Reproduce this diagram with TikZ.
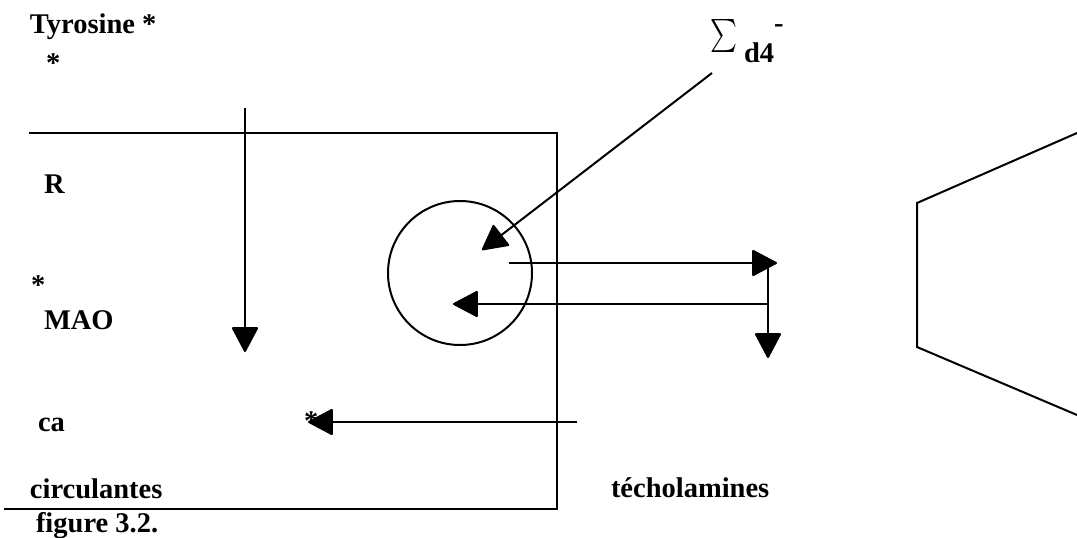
\documentclass[tikz,border=0pt]{standalone}
\usepackage{fontspec}
\setmainfont{Liberation Serif}
\usepackage{graphicx}
\usetikzlibrary{arrows.meta}

\tikzset{
  lbl/.style={font=\fontsize{28.5}{34}\selectfont\bfseries, inner sep=0pt, anchor=base west},
  flow/.style={line width=2pt, -{Triangle[length=26pt,width=27pt,round]}},
}

\begin{document}
\begin{tikzpicture}[x=1pt,y=-1pt,line width=2pt]
  \useasboundingbox (0,0) rectangle (1077,538);

  % Cell outline and vesicle
  \draw (29,133) -| (557,509) -- (4,509);
  \node[circle,draw,minimum size=144pt,inner sep=0pt] (vesicle) at (460,273) {};

  % Synapse side
  \draw (1077,133) -- (917,203) -- (917,347) -- (1077,415);

  % Labels
  \node[lbl] (tyr) at (29,33) {Tyrosine *};
  \node[lbl] (star1) at (45,72) {*};
  \node[lbl] (rlab) at (43,193) {R};
  \node[lbl] (star2) at (30,294) {*};
  \node[lbl] (mao) at (43,329) {MAO};
  \node[lbl] (ca) at (37,431) {ca};
  \node[lbl] (star3) at (303,430) {*};
  \node[lbl] (circ) at (29,498) {circulantes};
  \node[lbl] (fig) at (35,532) {figure 3.2.};
  \node[lbl] (tech) at (610,497) {técholamines};
  \node[inner sep=0pt] (sigma) at (723.5,35.5) {\resizebox*{27pt}{33pt}{$\sum$}};
  \node[lbl] (dfour) at (743,62) {d4\raisebox{30pt}{-}};

  % Arrows
  \coordinate (tyrin) at (245,108);
  \coordinate (tyrout) at (245,352);
  \draw[flow] (tyrin) -- (tyrout);

  \coordinate (sigfrom) at (712,73);
  \coordinate (sigto) at (482,250);
  \draw[flow] (sigfrom) -- (sigto);

  \coordinate (relfrom) at (509,263);
  \coordinate (relto) at (777,263);
  \draw[flow] (relfrom) -- (relto);

  \coordinate (upfrom) at (768,304);
  \coordinate (upto) at (453,304);
  \draw[flow] (upfrom) -- (upto);

  \coordinate (downfrom) at (768,263);
  \coordinate (downto) at (768,358);
  \draw[flow] (downfrom) -- (downto);

  \coordinate (backfrom) at (577,422);
  \coordinate (backto) at (308,422);
  \draw[flow] (backfrom) -- (backto);
\end{tikzpicture}
\end{document}
